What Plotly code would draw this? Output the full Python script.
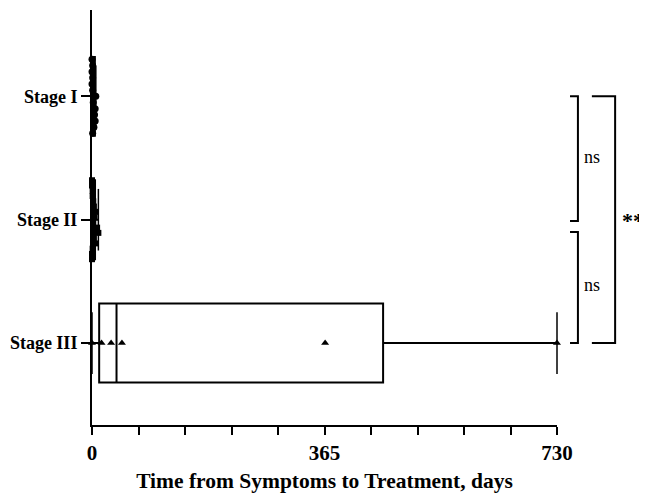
import numpy as np
import plotly.graph_objects as go

# ---- data ----
categories = ["Stage I", "Stage II", "Stage III"]
stage1_days = [0, 1, 0, 1, 0, 1, 6, 2, 5, 4, 5, 3, 1]
stage2_days = [0, 0, 1, 1, 2, 3, 5, 4, 2, 8, 10, 3, 6, 1, 0, 0]
stage3_days = [0, 15, 30, 47, 366, 730]
x_tick_vals = [0, 73, 146, 219, 292, 365, 438, 511, 584, 657, 730]
x_tick_text = ["0", "", "", "", "", "365", "", "", "", "", "730"]
x_title = "Time from Symptoms to Treatment, days"
comparisons = [("Stage I", "Stage II", "ns"), ("Stage II", "Stage III", "ns"), ("Stage I", "Stage III", "**")]

groups = [stage1_days, stage2_days, stage3_days]
symbols = ["circle", "square", "triangle-up"]
spreads = [0.30, 0.32, 0.0]   # vertical swarm spread per group (style)
marker_sizes = [7, 6, 7]

FONT = "Liberation Serif"
ncat = len(categories)
pos = {c: ncat - i for i, c in enumerate(categories)}

fig = go.Figure()

for cat, vals, sym, spr, ms in zip(categories, groups, symbols, spreads, marker_sizes):
    v = np.array(vals, dtype=float)
    q1, med, q3 = np.percentile(v, [25, 50, 75], method="weibull")
    y0 = pos[cat]
    fig.add_trace(go.Box(
        y=[y0], q1=[q1], median=[med], q3=[q3],
        lowerfence=[v.min()], upperfence=[v.max()],
        orientation="h", width=0.64, whiskerwidth=0,
        line=dict(color="black", width=2), fillcolor="rgba(0,0,0,0)",
        boxpoints=False, showlegend=False, hoverinfo="skip"))
    # whisker caps
    fig.add_trace(go.Scatter(
        x=[v.min(), v.max()], y=[y0, y0], mode="markers",
        marker=dict(symbol="line-ns", size=44, line=dict(color="black", width=1.5)),
        showlegend=False, hoverinfo="skip", cliponaxis=False))
    offs = np.linspace(spr, -spr, len(v)) if spr > 0 else np.zeros(len(v))
    fig.add_trace(go.Scatter(
        x=v, y=y0 + offs, mode="markers",
        marker=dict(symbol=sym, size=ms, color="black", line=dict(width=0)),
        showlegend=False, cliponaxis=False))

# significance brackets
x_in, x_out = 1.028, 1.045
x_in2, x_out2 = 1.075, 1.125
brackets = [
    (x_in, x_out, pos["Stage I"], pos["Stage II"] - 0.01, 2.51, 1.075),
    (x_in, x_out, pos["Stage II"] - 0.10, pos["Stage III"], 1.47, 1.075),
    (x_in2, x_out2, pos["Stage I"], pos["Stage III"], 1.99, 1.163),
]
for (comp, (xa, xb, ya, yb, ty, tx)) in zip(comparisons, brackets):
    fig.add_shape(type="path", xref="paper", yref="y",
                  path=f"M {xa},{ya} L {xb},{ya} L {xb},{yb} L {xa},{yb}",
                  line=dict(color="black", width=2))
    label = comp[2]
    bold = label != "ns"
    fig.add_annotation(x=tx, y=ty, xref="paper", yref="y", text=f"<b>{label}</b>" if bold else label,
                       showarrow=False, xanchor="center", yanchor="middle",
                       font=dict(family=FONT, size=22 if bold else 18, color="black"))

# page body has an 8px margin: size the figure so it fills the 647x495 window
fig.update_layout(
    width=639, height=487,
    margin=dict(l=84, r=90, t=2, b=70),
    plot_bgcolor="white", paper_bgcolor="white",
    font=dict(family=FONT, color="black"),
    xaxis=dict(range=[0, 730], tickvals=x_tick_vals,
               ticktext=["<b>" + t + "</b>" if t else "" for t in x_tick_text],
               ticks="outside", ticklen=8, tickwidth=2, tickcolor="black",
               showline=True, linewidth=2, linecolor="black", showgrid=False, zeroline=False,
               tickfont=dict(family=FONT, size=21, color="black"),
               title=dict(text="<b>" + x_title + "</b>", font=dict(family=FONT, size=21.5, color="black"),
                          standoff=9)),
    yaxis=dict(range=[0.336, 3.70], tickvals=[pos[c] for c in categories],
               ticktext=["<b>" + c + "</b>" for c in categories],
               ticks="outside", ticklen=9, tickwidth=2, tickcolor="black",
               showline=True, linewidth=2, linecolor="black", showgrid=False, zeroline=False,
               tickfont=dict(family=FONT, size=18, color="black")),
)

fig.write_html("out.html")
